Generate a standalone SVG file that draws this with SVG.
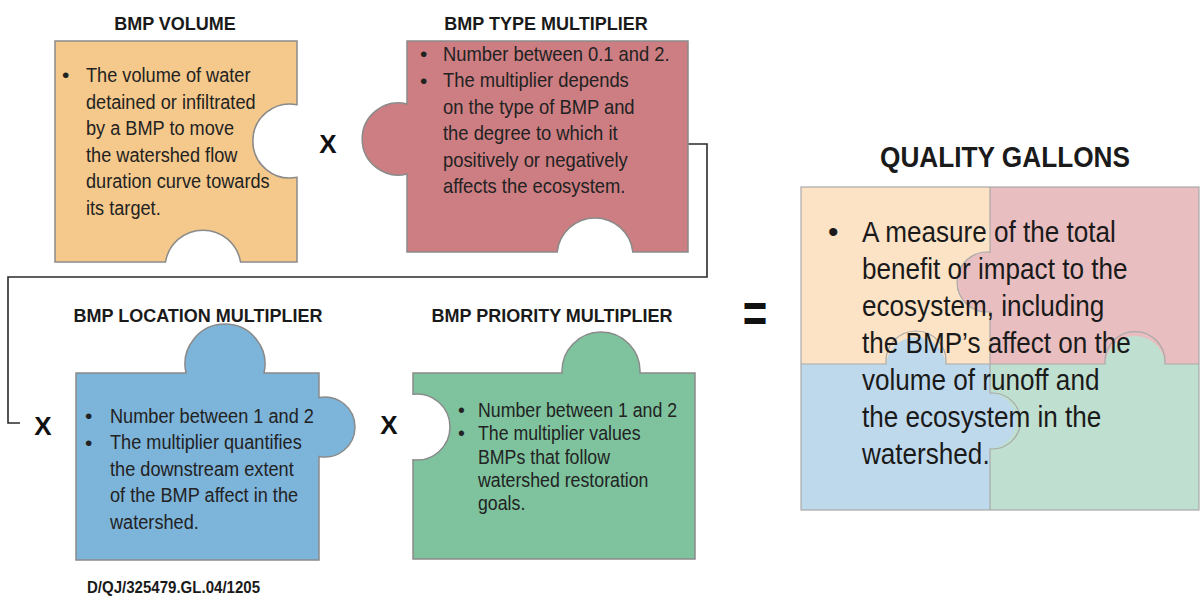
<svg xmlns="http://www.w3.org/2000/svg" width="1202" height="597" viewBox="0 0 1202 597">
<style>
.piece{stroke:#8a8a8a;stroke-width:1.5}
.title{font-family:"Liberation Sans",Arial,sans-serif;font-weight:bold;font-size:18px;fill:#1a1a1a;text-anchor:middle}
.body{font-family:"Liberation Sans",Arial,sans-serif;font-size:21px;fill:#222}
.gbody{font-family:"Liberation Sans",Arial,sans-serif;font-size:19.5px;fill:#222}
.qbody{font-family:"Liberation Sans",Arial,sans-serif;font-size:30px;fill:#1a1a1a}
.op{font-family:"Liberation Sans",Arial,sans-serif;font-weight:bold;font-size:26px;fill:#111;text-anchor:middle}
.div{fill:none;stroke:#a9a9a9;stroke-width:1.2}
.conn{fill:none;stroke:#2a2a2a;stroke-width:1.6}
</style>
<rect width="1202" height="597" fill="#ffffff"/>

<g id="connectors">
<path class="conn" d="M688,144 H707 V277 H8 V423 H20"/>
</g>

<g id="bmp-volume">
<text class="title" x="175" y="30">BMP VOLUME</text>
<path class="piece" fill="#F5C98C" d="M55,41 H297 V104.7 A37,37 0 1,0 297,177.3 V262 H240.5 A38,38 0 0,0 165.5,262 H55 Z"/>
<text class="body" x="62" y="82">•</text>
<text class="body" transform="translate(86,0) scale(0.865,1)">
<tspan x="0" y="82">The volume of water</tspan>
<tspan x="0" y="108.6">detained or infiltrated</tspan>
<tspan x="0" y="135.2">by a BMP to move</tspan>
<tspan x="0" y="161.8">the watershed flow</tspan>
<tspan x="0" y="188.4">duration curve towards</tspan>
<tspan x="0" y="215">its target.</tspan>
</text>
</g>

<g id="bmp-type">
<text class="title" x="546" y="30">BMP TYPE MULTIPLIER</text>
<path class="piece" fill="#CD7E82" d="M407,41 H688 V252 H632.8 A38,38 0 0,0 557.2,252 H407 V173.9 A36,36 0 1,1 407,104.1 Z"/>
<text class="body" x="420" y="61">•</text>
<text class="body" x="420" y="87.5">•</text>
<text class="body" transform="translate(443,0) scale(0.875,1)">
<tspan x="0" y="61">Number between 0.1 and 2.</tspan>
<tspan x="0" y="87.5">The multiplier depends</tspan>
<tspan x="0" y="114">on the type of BMP and</tspan>
<tspan x="0" y="140.5">the degree to which it</tspan>
<tspan x="0" y="167">positively or negatively</tspan>
<tspan x="0" y="193.5">affects the ecosystem.</tspan>
</text>
</g>

<g id="bmp-location">
<text class="title" x="198" y="322">BMP LOCATION MULTIPLIER</text>
<path class="piece" fill="#7DB4DA" d="M76,373 H186 A40,40 0 1,1 264,373 H319 V397.6 A30,30 0 1,1 319,456.4 V560 H76 Z"/>
<text class="body" x="85" y="423">•</text>
<text class="body" x="85" y="449.5">•</text>
<text class="body" transform="translate(110,0) scale(0.865,1)">
<tspan x="0" y="423">Number between 1 and 2</tspan>
<tspan x="0" y="449.5">The multiplier quantifies</tspan>
<tspan x="0" y="476">the downstream extent</tspan>
<tspan x="0" y="502.5">of the BMP affect in the</tspan>
<tspan x="0" y="529">watershed.</tspan>
</text>
</g>

<g id="bmp-priority">
<text class="title" x="552" y="322">BMP PRIORITY MULTIPLIER</text>
<path class="piece" fill="#7EC39E" d="M413,373 H562.05 A39,39 0 1,1 639.95,373 H695 V559 H413 V459.76 A33,33 0 1,0 413,394.24 Z"/>
<text class="gbody" x="458" y="417">•</text>
<text class="gbody" x="458" y="440.3">•</text>
<text class="gbody" transform="translate(478,0) scale(0.91,1)">
<tspan x="0" y="417">Number between 1 and 2</tspan>
<tspan x="0" y="440.3">The multiplier values</tspan>
<tspan x="0" y="463.6">BMPs that follow</tspan>
<tspan x="0" y="487">watershed restoration</tspan>
<tspan x="0" y="510.3">goals.</tspan>
</text>
</g>

<g id="operators">
<text class="op" x="328" y="153">X</text>
<text class="op" x="43" y="435">X</text>
<text class="op" x="389" y="434">X</text>
<text class="op" transform="translate(755,332) scale(1,1.3)" x="0" y="0" style="font-size:42px">=</text>
</g>

<g id="quality-gallons">
<text class="title" x="1005" y="167" style="font-size:29px" textLength="250" lengthAdjust="spacingAndGlyphs">QUALITY GALLONS</text>
<rect x="801" y="187" width="189" height="177" fill="#FCE3C6"/>
<rect x="990" y="187" width="209" height="177" fill="#E9BEC0"/>
<rect x="801" y="364" width="189" height="146" fill="#BFD9EC"/>
<rect x="990" y="364" width="209" height="146" fill="#BFE0D0"/>
<circle cx="987" cy="282" r="30" fill="#E9BEC0"/>
<circle cx="916" cy="367" r="30" fill="#BFD9EC"/>
<circle cx="1135" cy="366" r="30" fill="#BFE0D0"/>
<circle cx="988" cy="421" r="28" fill="#BFD9EC"/>
<path class="div" d="M990,187 V252.15 A30,30 0 1,0 990,311.85 V364"/>
<path class="div" d="M801,364 H886.15 A30,30 0 1,1 945.85,364 H1105.1 A30,30 0 1,1 1164.9,364 H1199"/>
<path class="div" d="M990,364 V393.1 A28,28 0 1,1 990,448.9 V510"/>
<rect class="div" x="801" y="187" width="398" height="323"/>
<text class="qbody" x="828" y="242">•</text>
<text class="qbody" transform="translate(862,0) scale(0.87,1)">
<tspan x="0" y="242">A measure of the total</tspan>
<tspan x="0" y="279">benefit or impact to the</tspan>
<tspan x="0" y="316">ecosystem, including</tspan>
<tspan x="0" y="353">the BMP’s affect on the</tspan>
<tspan x="0" y="390">volume of runoff and</tspan>
<tspan x="0" y="427">the ecosystem in the</tspan>
<tspan x="0" y="464">watershed.</tspan>
</text>
</g>

<text x="87" y="593" style="font-family:'Liberation Sans',Arial,sans-serif;font-weight:bold;font-size:16px;fill:#1a1a1a" textLength="173" lengthAdjust="spacingAndGlyphs">D/QJ/325479.GL.04/1205</text>
</svg>
